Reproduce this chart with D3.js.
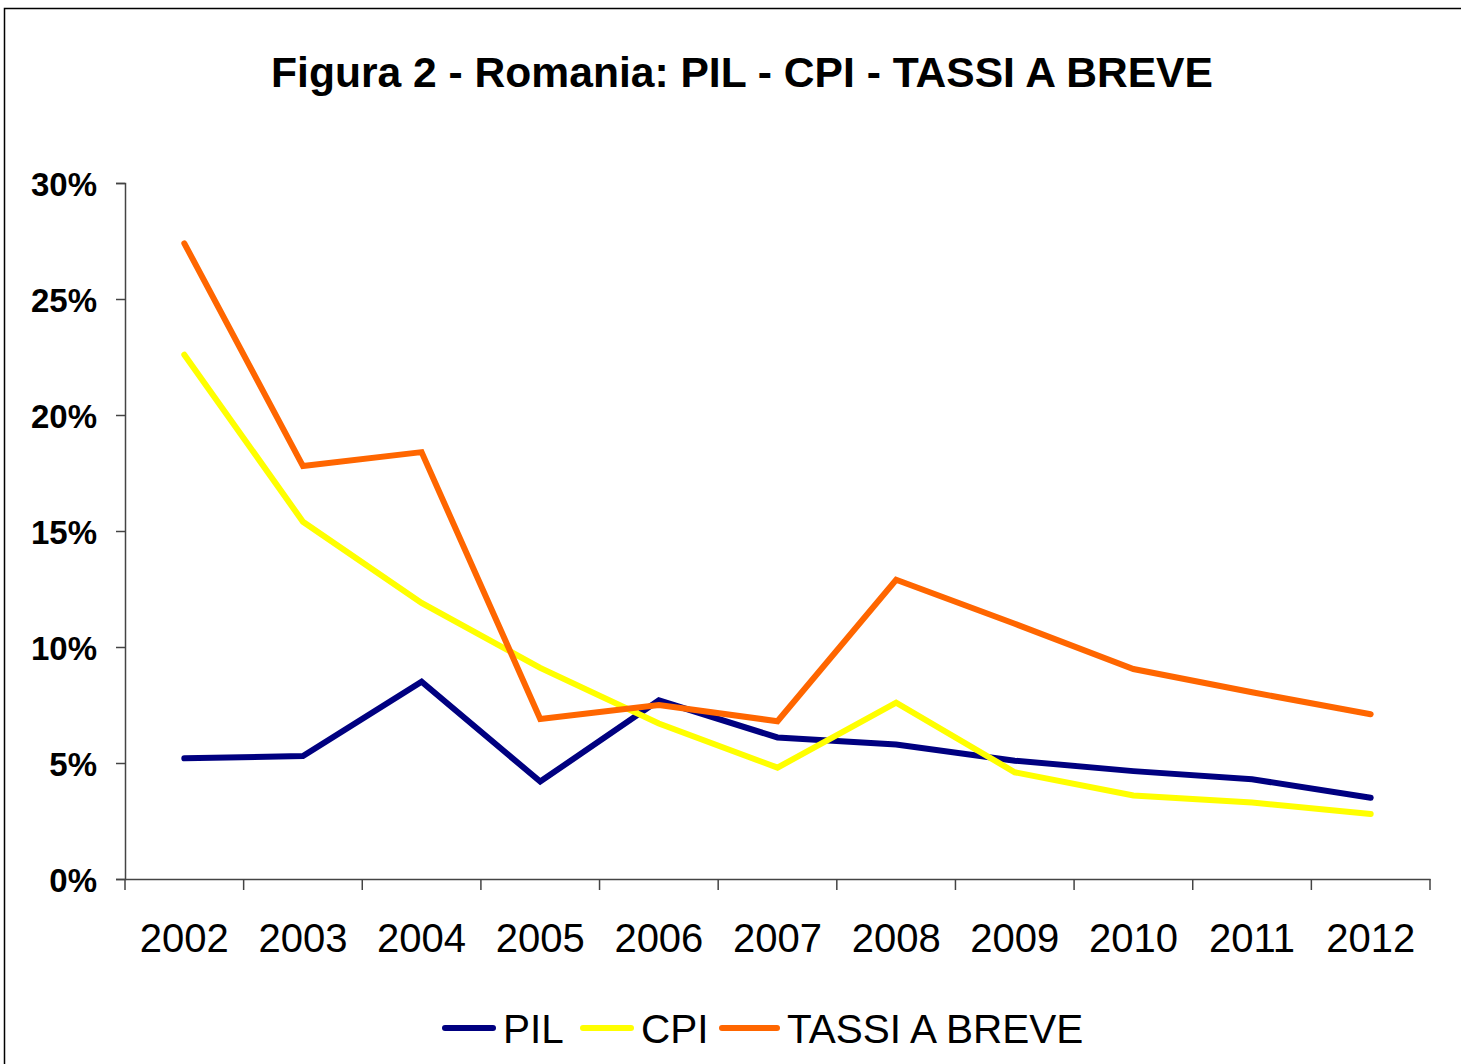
<!DOCTYPE html>
<html>
<head>
<meta charset="utf-8">
<script src="https://cdn.jsdelivr.net/npm/d3@7"></script>
<style>
  html, body { margin: 0; padding: 0; background: #fff; }
  text { font-family: Arial, "Liberation Sans", sans-serif; }
</style>
</head>
<body>
<div id="chart"></div>
<script>
// categories and series (percent)
var years = ['2002','2003','2004','2005','2006','2007','2008','2009','2010','2011','2012'];
var pil   = [5.2, 5.3, 8.5, 4.2, 7.7, 6.1, 5.8, 5.1, 4.65, 4.3, 3.5];
var cpi   = [22.6, 15.4, 11.9, 9.1, 6.7, 4.8, 7.6, 4.6, 3.6, 3.3, 2.8];
var tassi = [27.4, 17.8, 18.4, 6.9, 7.5, 6.8, 12.9, 11.0, 9.05, 8.05, 7.1];
var yTicks = [0, 5, 10, 15, 20, 25, 30];

var seriesNames  = ['PIL', 'CPI', 'TASSI A BREVE'];
var seriesColors = ['#000080', '#ffff00', '#ff6600'];
var seriesValues = [pil, cpi, tassi];

var W = 1461, H = 1064;
var plotLeft = 125, plotRight = 1430, plotTop = 183, plotBottom = 879;

var svg = d3.select('#chart').append('svg')
    .attr('width', W)
    .attr('height', H);

// outer frame (only top and left edges fall inside the picture)
svg.append('rect')
  .attr('x', 4.5).attr('y', 8.5)
  .attr('width', W + 20).attr('height', H + 20)
  .attr('fill', 'none')
  .attr('stroke', '#000')
  .attr('stroke-width', 1.5);

svg.append('text')
  .attr('x', 742).attr('y', 87)
  .attr('text-anchor', 'middle')
  .style('font-size', '42.6px')
  .style('font-weight', 'bold')
  .text('Figura 2 - Romania: PIL - CPI - TASSI A BREVE');

var x = d3.scaleBand().domain(years).range([plotLeft, plotRight]).padding(0);
var y = d3.scaleLinear().domain([0, 30]).range([plotBottom, plotTop]);

// y axis
var yAxis = svg.append('g')
  .attr('transform', 'translate(' + plotLeft + ',0)')
  .call(d3.axisLeft(y).tickValues(yTicks).tickSize(9).tickPadding(19)
        .tickFormat(function(d) { return d + '%'; }));
yAxis.select('.domain').attr('stroke', '#444').attr('stroke-width', 1.5);
yAxis.selectAll('.tick line').attr('stroke', '#444').attr('stroke-width', 1.5);
yAxis.selectAll('.tick text')
  .attr('dy', '0.38em')
  .style('font-size', '33px')
  .style('font-weight', 'bold')
  .style('font-family', 'Arial, "Liberation Sans", sans-serif')
  .attr('fill', '#000');

// x axis: labels centred in bands, ticks on band edges
var xAxis = svg.append('g')
  .attr('transform', 'translate(0,' + plotBottom + ')')
  .call(d3.axisBottom(x).tickSize(0).tickPadding(0));
xAxis.select('.domain').attr('stroke', '#444').attr('stroke-width', 1.5);
xAxis.selectAll('.tick text')
  .attr('y', 73)
  .attr('dy', 0)
  .style('font-size', '40px')
  .style('font-family', 'Arial, "Liberation Sans", sans-serif')
  .attr('fill', '#000');

var edges = years.map(function(d) { return x(d); }).concat([plotRight]);
xAxis.selectAll('.edge')
  .data(edges)
  .enter().append('line')
    .attr('class', 'edge')
    .attr('x1', function(d) { return d; })
    .attr('x2', function(d) { return d; })
    .attr('y1', 0).attr('y2', 11)
    .attr('stroke', '#444')
    .attr('stroke-width', 1.5);

// lines
var line = d3.line()
  .x(function(d, i) { return x(years[i]) + x.bandwidth() / 2; })
  .y(function(d) { return y(d); });

svg.selectAll('.series')
  .data(seriesValues)
  .enter().append('path')
    .attr('class', 'series')
    .attr('d', line)
    .attr('fill', 'none')
    .attr('stroke', function(d, i) { return seriesColors[i]; })
    .attr('stroke-width', 6)
    .attr('stroke-linecap', 'round')
    .attr('stroke-linejoin', 'miter');

// legend
var legendLineX = [445, 583, 722];
var legendTextX = [503, 641, 787];
var legend = svg.selectAll('.legend')
  .data(seriesNames)
  .enter().append('g')
    .attr('class', 'legend');
legend.append('line')
  .attr('x1', function(d, i) { return legendLineX[i]; })
  .attr('x2', function(d, i) { return legendTextX[i] - 10; })
  .attr('y1', 1028).attr('y2', 1028)
  .attr('stroke', function(d, i) { return seriesColors[i]; })
  .attr('stroke-width', 6)
  .attr('stroke-linecap', 'round');
legend.append('text')
  .attr('x', function(d, i) { return legendTextX[i]; })
  .attr('y', 1043)
  .style('font-size', '40.5px')
  .text(function(d) { return d; });
</script>
</body>
</html>
